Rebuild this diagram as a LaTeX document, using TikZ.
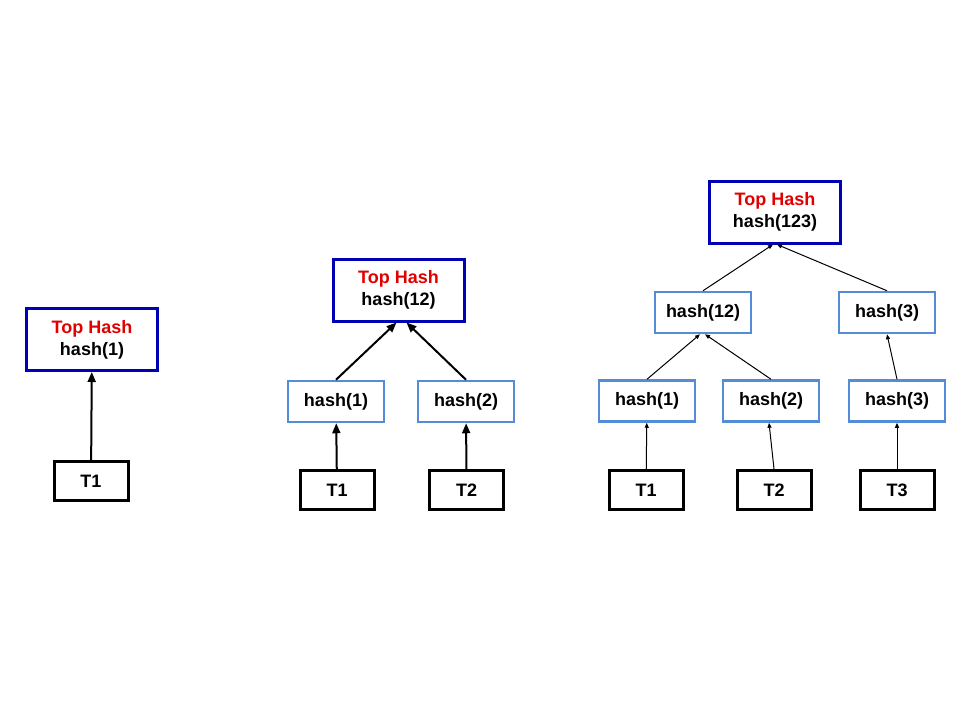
\documentclass[tikz,border=0pt]{standalone}
\usepackage{fontspec}
\setmainfont{Liberation Sans}
\usetikzlibrary{arrows.meta}

\definecolor{topblue}{RGB}{0,0,180}
\definecolor{hashblue}{RGB}{85,140,215}
\definecolor{topred}{RGB}{225,0,0}

\tikzset{
    tophash/.style={draw=topblue, line width=3pt, minimum width=131pt, minimum height=62pt,
        align=center, font=\fontsize{18}{22}\selectfont\bfseries},
    hashbox/.style={draw=hashblue, line width=2.5pt, minimum width=96pt, minimum height=41pt,
        font=\fontsize{18}{22}\selectfont\bfseries},
    txbox/.style={draw=black, line width=3pt, minimum width=74pt, minimum height=39pt,
        font=\fontsize{18}{22}\selectfont\bfseries},
    bigarrow/.style={line width=2pt, -{Triangle[length=10pt,width=8pt]}},
    smallarrow/.style={line width=1pt, -{Triangle[length=5pt,width=4pt]}}
}

\newcommand{\tophashtext}[1]{\textcolor{topred}{Top Hash}\\#1}

\begin{document}
\begin{tikzpicture}[x=1pt,y=-1pt]
        \useasboundingbox (0,0) rectangle (960,720);

        % One transaction
        \node[tophash] (top1) at (92,339.5) {\tophashtext{hash(1)}};
        \node[txbox] (t1a) at (91,481) {T1};
        \draw[bigarrow] (t1a) -- (top1);

        % Two transactions
        \node[tophash] (top2) at (398.5,290) {\tophashtext{hash(12)}};
        \node[hashbox] (h1b) at (336,401.5) {hash(1)};
        \node[hashbox] (h2b) at (466,401.5) {hash(2)};
        \node[txbox] (t1b) at (337,490) {T1};
        \node[txbox] (t2b) at (466.5,490) {T2};
        \draw[bigarrow] (t1b) -- (h1b);
        \draw[bigarrow] (t2b) -- (h2b);
        \draw[bigarrow] (h1b.north) -- ([xshift=-2pt]top2.south);
        \draw[bigarrow] (h2b.north) -- ([xshift=8pt]top2.south);

        % Three transactions
        \node[tophash] (top3) at (775,212) {\tophashtext{hash(123)}};
        \node[hashbox] (h12c) at (703,312.5) {hash(12)};
        \node[hashbox] (h3u) at (887,312.5) {hash(3)};
        \node[hashbox] (h1c) at (647,401) {hash(1)};
        \node[hashbox] (h2c) at (771,401) {hash(2)};
        \node[hashbox] (h3c) at (897,401) {hash(3)};
        \node[txbox] (t1c) at (646,490) {T1};
        \node[txbox] (t2c) at (774,490) {T2};
        \node[txbox] (t3c) at (897,490) {T3};
        \draw[smallarrow] (t1c) -- (h1c);
        \draw[smallarrow] (t2c.north) -- ([xshift=-2pt]h2c.south);
        \draw[smallarrow] (t3c) -- (h3c);
        \draw[smallarrow] (h1c.north) -- ([xshift=-3pt]h12c.south);
        \draw[smallarrow] (h2c.north) -- ([xshift=2pt]h12c.south);
        \draw[smallarrow] (h3c.north) -- (h3u.south);
        \draw[smallarrow] (h12c.north) -- ([xshift=-2pt]top3.south);
        \draw[smallarrow] (h3u.north) -- ([xshift=2pt]top3.south);
    \end{tikzpicture}
\end{document}
